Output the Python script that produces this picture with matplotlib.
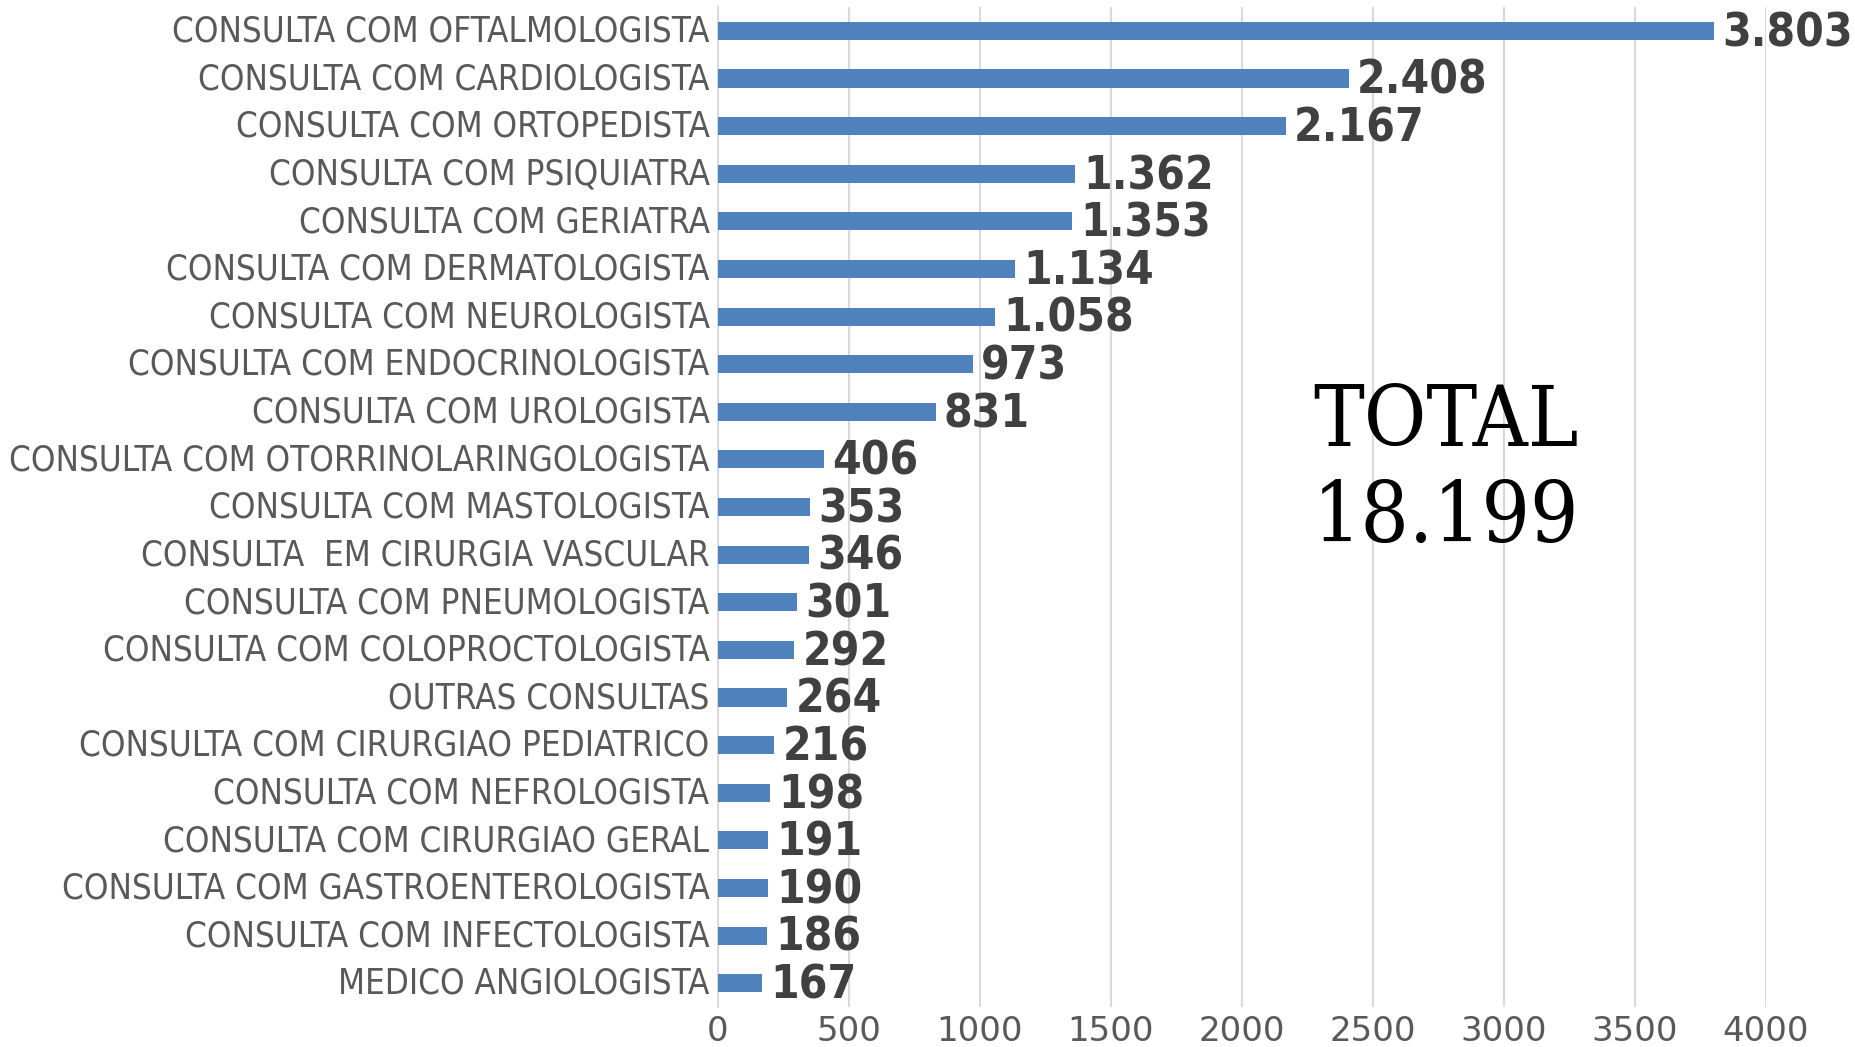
import matplotlib
matplotlib.use("Agg")
import matplotlib.pyplot as plt
import matplotlib.transforms as mtransforms

# consultas realizadas por especialidade
categorias = [
    "CONSULTA COM OFTALMOLOGISTA",
    "CONSULTA COM CARDIOLOGISTA",
    "CONSULTA COM ORTOPEDISTA",
    "CONSULTA COM PSIQUIATRA",
    "CONSULTA COM GERIATRA",
    "CONSULTA COM DERMATOLOGISTA",
    "CONSULTA COM NEUROLOGISTA",
    "CONSULTA COM ENDOCRINOLOGISTA",
    "CONSULTA COM UROLOGISTA",
    "CONSULTA COM OTORRINOLARINGOLOGISTA",
    "CONSULTA COM MASTOLOGISTA",
    "CONSULTA  EM CIRURGIA VASCULAR",
    "CONSULTA COM PNEUMOLOGISTA",
    "CONSULTA COM COLOPROCTOLOGISTA",
    "OUTRAS CONSULTAS",
    "CONSULTA COM CIRURGIAO PEDIATRICO",
    "CONSULTA COM NEFROLOGISTA",
    "CONSULTA COM CIRURGIAO GERAL",
    "CONSULTA COM GASTROENTEROLOGISTA",
    "CONSULTA COM INFECTOLOGISTA",
    "MEDICO ANGIOLOGISTA",
]
valores = [3803, 2408, 2167, 1362, 1353, 1134, 1058, 973, 831, 406,
           353, 346, 301, 292, 264, 216, 198, 191, 190, 186, 167]
xticks = [0, 500, 1000, 1500, 2000, 2500, 3000, 3500, 4000]
total_txt = "TOTAL\n18.199"

cond = ["DejaVu Sans Condensed", "DejaVu Sans"]
serif = ["DejaVu Serif Condensed", "DejaVu Serif"]
plt.rcParams["font.family"] = ["DejaVu Sans"]

fig = plt.figure(figsize=(18.55, 10.47), dpi=100, facecolor="white")
ax = fig.add_axes([0.387, 0.0382, 0.565, 0.955])

pos = list(range(len(categorias)))
ax.barh(pos, valores, height=0.38, color="#4F81BD", zorder=3)

ax.set_ylim(len(categorias) - 0.5, -0.5)
ax.set_xlim(0, 4000)
ax.set_yticks(pos)
ax.set_yticklabels(categorias, fontsize=25, color="#595959",
                   family=cond, stretch="condensed")
ax.set_xticks(xticks)
ax.set_xticklabels([str(t) for t in xticks], fontsize=24.5, color="#595959")
ax.tick_params(axis="y", length=0, pad=6)
ax.tick_params(axis="x", length=0, pad=6)

# nudge the category labels up a little
shift = mtransforms.ScaledTranslation(0, 2 / 72, fig.dpi_scale_trans)
for lbl in ax.get_yticklabels():
    lbl.set_transform(lbl.get_transform() + shift)

ax.grid(axis="x", color="#D9D9D9", linewidth=1.5, zorder=0)
for s in ["top", "right", "bottom"]:
    ax.spines[s].set_visible(False)
ax.spines["left"].set_color("#D9D9D9")
ax.spines["left"].set_linewidth(1.5)

# rotulos de valor com ponto como separador de milhar
for y, v in zip(pos, valores):
    ax.annotate(f"{v:,}".replace(",", "."), (v, y), xytext=(6, -2),
                textcoords="offset points", va="center", ha="left",
                fontsize=33, fontweight="bold", color="#404040",
                family=cond, stretch="condensed", annotation_clip=False)

ax.text(0.695, 0.536, total_txt, transform=ax.transAxes, ha="center",
        va="center", fontsize=61, family=serif, stretch="condensed",
        color="black", linespacing=1.22)

fig.savefig("out.png", dpi=100, facecolor="white")
